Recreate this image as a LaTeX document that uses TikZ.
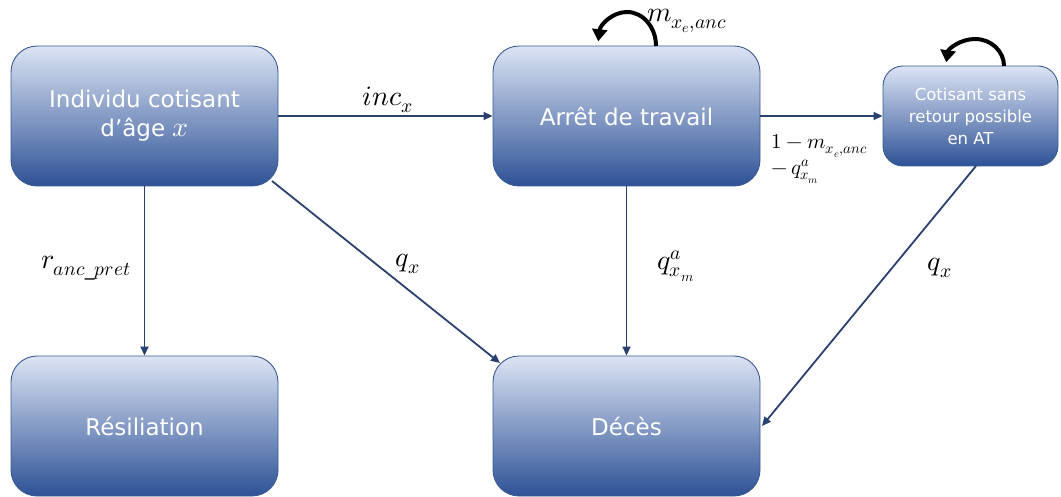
\documentclass[tikz,border=0pt]{standalone}
\usepackage{fontspec}
\usepackage{unicode-math}
\setmainfont{DejaVu Sans}
\setmathfont{Latin Modern Math}
\usetikzlibrary{arrows.meta}
\definecolor{boxtop}{HTML}{DCE4F4}
\definecolor{boxmid}{HTML}{94AADB}
\definecolor{boxbot}{HTML}{2E5296}
\definecolor{boxline}{HTML}{3A5A92}
\definecolor{arrowc}{HTML}{2A4170}
\tikzset{
  statebox/.style={rectangle, rounded corners=26pt, draw=boxline, line width=0.9pt,
    top color=boxtop, middle color=boxmid, bottom color=boxbot,
    text=white, align=center, inner sep=0pt},
  bigbox/.style={statebox, minimum width=267pt, minimum height=140pt, font=\fontsize{23}{29}\selectfont},
  smallbox/.style={statebox, rounded corners=20pt, minimum width=175pt, minimum height=100pt, font=\fontsize{16.5}{22}\selectfont},
  flow/.style={draw=arrowc, line width=1.8pt, -{Triangle[length=9pt,width=8pt]}},
  selfloop/.style={draw=black, line width=4pt, -{Triangle[length=12pt,width=15pt]}},
  lab/.style={font=\fontsize{28}{32}\selectfont, inner sep=0pt}
}
\begin{document}
\begin{tikzpicture}[x=1pt,y=-1pt]
\useasboundingbox (0,0) rectangle (1061,497);
\node[bigbox] (ind) at (144.5,116) {Individu cotisant\\d’âge {\fontsize{28}{29}\selectfont$x$}};
\node[bigbox] (arr) at (626.5,116) {Arrêt de travail};
\node[smallbox] (cot) at (970.5,116) {Cotisant sans\\retour possible\\en AT};
\node[bigbox] (res) at (144.5,426) {Résiliation};
\node[bigbox] (dec) at (626.5,426) {Décès};

\draw[flow] (ind.east) -- (arr.west);
\draw[flow] (arr.east) -- (cot.west);
\draw[flow] (ind.south) -- (res.north);
\draw[flow] (arr.south) -- (dec.north);
\coordinate (indc) at (272,181);
\coordinate (decc) at (500,363);
\draw[flow] (indc) -- (decc);
\coordinate (cotb) at (976,166);
\coordinate (decr) at (762,426);
\draw[flow] (cotb) -- (decr);

\coordinate (l1s) at (656,46);
\draw[selfloop] (l1s) arc[start angle=0, end angle=-172, x radius=29, y radius=34];
\coordinate (l2s) at (1004,66);
\draw[selfloop] (l2s) arc[start angle=0, end angle=-172, x radius=29, y radius=27];

\node[lab] (linc) at (388,100) {$inc_x$};
\node[lab] (lm) at (687,21) {$m_{x_e,anc}$};
\node[lab, font=\fontsize{21}{25}\selectfont, anchor=west, align=left] (l1m) at (771,159) {$1-m_{x_e,anc}$\\[1pt]$-\,q^a_{x_m}$};
\node[lab] (lr) at (86,268) {$r_{anc\_pret}$};
\node[lab] (lq1) at (408,264) {$q_x$};
\node[lab] (lqa) at (676,266) {$q^a_{x_m}$};
\node[lab] (lq2) at (940,268) {$q_x$};
\end{tikzpicture}
\end{document}
